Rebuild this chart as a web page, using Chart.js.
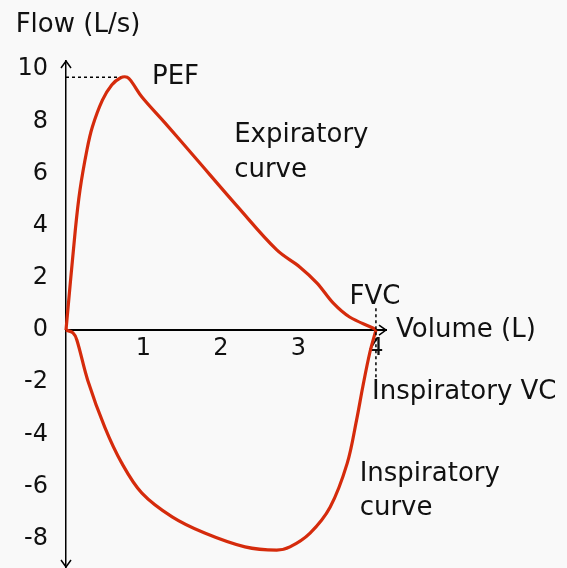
<!DOCTYPE html>
<html>
<head>
<meta charset="utf-8">
<script src="https://cdn.jsdelivr.net/npm/chart.js@4.4.1/dist/chart.umd.min.js"></script>
<style>
  html, body { margin: 0; padding: 0; background: #f9f9f9; }
  #wrap { width: 567px; height: 568px; }
</style>
</head>
<body>
<div id="wrap"><canvas id="loop"></canvas></div>
<script>
// flow-volume loop, values
const expVolume = [0, 0.12, 0.18, 0.27, 0.34, 0.47, 0.59, 0.70, 0.79, 0.85, 0.98, 1.28, 1.66, 2.22, 2.72, 3.02, 3.24, 3.45, 3.66, 3.96, 4.0];
const expFlow   = [0, 3.83, 5.36, 6.90, 7.78, 8.81, 9.39, 9.66, 9.69, 9.50, 8.93, 7.93, 6.63, 4.71, 3.07, 2.41, 1.80, 1.03, 0.50, 0.08, 0];
const insVolume = [0, 0.09, 0.14, 0.28, 0.50, 0.72, 0.98, 1.37, 1.79, 2.31, 2.72, 2.89, 3.15, 3.41, 3.63, 3.75, 3.83, 3.92, 4.0];
const insFlow   = [0, -0.11, -0.38, -1.92, -3.72, -5.10, -6.25, -7.16, -7.78, -8.31, -8.43, -8.31, -7.78, -6.78, -5.10, -3.45, -2.18, -0.88, 0];

const xTicks = [1, 2, 3, 4];
const yTicks = [-8, -6, -4, -2, 0, 2, 4, 6, 8, 10];

// annotation texts, anchored in data units (left edge, middle)
const notes = [
  { text: 'Flow (L/s)', v: -0.65, f: 11.69 },
  { text: 'PEF', v: 1.11, f: 9.69 },
  { text: 'Expiratory', v: 2.17, f: 7.47 },
  { text: 'curve', v: 2.17, f: 6.13 },
  { text: 'FVC', v: 3.66, f: 1.26 },
  { text: 'Volume (L)', v: 4.26, f: 0.0 },
  { text: 'Inspiratory VC', v: 3.95, f: -2.38 },
  { text: 'Inspiratory', v: 3.79, f: -5.52 },
  { text: 'curve', v: 3.79, f: -6.82 }
];

const FONT = '"DejaVu Sans", sans-serif';
const RED = '#d52b0c';

function toPts(xs, ys) {
  return xs.map((x, i) => ({ x: x, y: ys[i] }));
}

// find PEF from the data
let peakIdx = 0;
for (let i = 0; i < expFlow.length; ++i) {
  if (expFlow[i] > expFlow[peakIdx]) peakIdx = i;
}

const extras = {
  id: 'extras',
  afterDraw(chart) {
    const c = chart.ctx;
    const xs = chart.scales.x, ys = chart.scales.y;
    const x0 = xs.getPixelForValue(0), y0 = ys.getPixelForValue(0);
    const area = chart.chartArea;
    c.save();
    c.strokeStyle = '#000';
    c.lineWidth = 1.5;

    // arrow heads
    c.beginPath();
    c.moveTo(x0 - 5, area.top + 7); c.lineTo(x0, area.top); c.lineTo(x0 + 5, area.top + 7);
    c.moveTo(x0 - 5, area.bottom - 7); c.lineTo(x0, area.bottom); c.lineTo(x0 + 5, area.bottom - 7);
    c.moveTo(area.right - 7, y0 - 5); c.lineTo(area.right, y0); c.lineTo(area.right - 7, y0 + 5);
    c.stroke();

    // dotted guides: PEF and FVC
    c.setLineDash([3, 3]);
    c.lineWidth = 1.5;
    const py = ys.getPixelForValue(expFlow[peakIdx]);
    c.beginPath();
    c.moveTo(x0, py);
    c.lineTo(xs.getPixelForValue(expVolume[peakIdx - 1]), py);
    const fx = xs.getPixelForValue(expVolume[expVolume.length - 1]);
    c.moveTo(fx, ys.getPixelForValue(0.84));
    c.lineTo(fx, ys.getPixelForValue(-1.9));
    c.stroke();
    c.setLineDash([]);

    // text
    c.fillStyle = '#111';
    c.font = '26px ' + FONT;
    c.textAlign = 'left';
    c.textBaseline = 'middle';
    notes.forEach(n => {
      c.fillText(n.text, xs.getPixelForValue(n.v), ys.getPixelForValue(n.f));
    });
    c.restore();
  }
};

new Chart(document.getElementById('loop'), {
  type: 'scatter',
  data: {
    datasets: [
      {
        label: 'Expiratory curve',
        data: toPts(expVolume, expFlow),
        showLine: true,
        borderColor: RED,
        borderWidth: 3.2,
        pointRadius: 0,
        tension: 0.35,
        clip: false
      },
      {
        label: 'Inspiratory curve',
        data: toPts(insVolume, insFlow),
        showLine: true,
        borderColor: RED,
        borderWidth: 3.2,
        pointRadius: 0,
        tension: 0.35,
        clip: false
      }
    ]
  },
  options: {
    responsive: true,
    maintainAspectRatio: false,
    animation: false,
    layout: { padding: { top: 61, right: 181, bottom: 1, left: 0 } },
    plugins: {
      legend: { display: false },
      tooltip: { enabled: false }
    },
    scales: {
      x: {
        type: 'linear',
        position: { y: 0 },
        min: 0,
        max: 4.13,
        afterBuildTicks: s => { s.ticks = xTicks.map(v => ({ value: v })); },
        afterFit: s => { s.height = 0; s.paddingLeft = 0; s.paddingRight = 0; },
        grid: { display: false, drawTicks: false },
        border: { display: true, color: '#000', width: 2 },
        ticks: {
          padding: 4,
          color: '#111',
          font: { family: FONT, size: 24 }
        }
      },
      y: {
        type: 'linear',
        position: 'left',
        min: -9.08,
        max: 10.31,
        afterBuildTicks: s => { s.ticks = yTicks.map(v => ({ value: v })); },
        // fixed axis width, no overhang padding so the arrow reaches the bottom
        afterFit: s => { s.width = 66; s.paddingTop = 0; s.paddingBottom = 0; },
        grid: { display: false, drawTicks: false },
        border: { display: true, color: '#000', width: 1.5 },
        ticks: {
          padding: 18,
          color: '#111',
          font: { family: FONT, size: 24 }
        }
      }
    }
  },
  plugins: [extras]
});
</script>
</body>
</html>
